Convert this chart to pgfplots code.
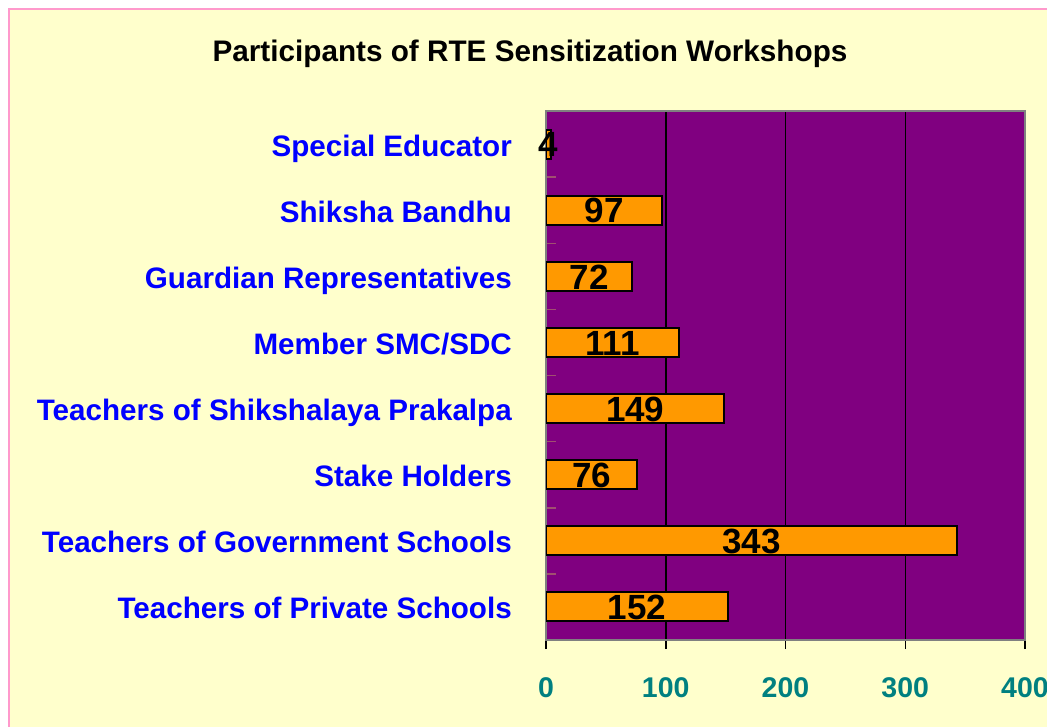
\documentclass[border=0pt]{standalone}
\usepackage{pgfplots}
\pgfplotsset{compat=1.18}
\usepackage{pgfplotstable}
\usepackage{fontspec}
\setmainfont{Liberation Sans}
\definecolor{bgyellow}{HTML}{FFFFCC}
\definecolor{pinkborder}{HTML}{FF99CC}
\definecolor{plotpurple}{HTML}{800080}
\definecolor{barorange}{HTML}{FF9900}
\definecolor{tickteal}{HTML}{008080}
\definecolor{labelblue}{HTML}{0000FF}
\definecolor{framegray}{HTML}{808080}
\definecolor{minortick}{HTML}{A05070}

\pgfplotstableread{
y v
0 152
1 343
2 76
3 149
4 111
5 72
6 97
7 4
}\datatable

\begin{document}
\begin{tikzpicture}
\clip (0,0) rectangle (1047pt,-727pt);
\fill[white] (0,0) rectangle (1047pt,-727pt);
\fill[bgyellow] (8pt,-8pt) rectangle (1060pt,-740pt);
\draw[pinkborder, line width=2.5pt] (9pt,-740pt) -- (9pt,-9pt) -- (1060pt,-9pt);
\node[font=\fontsize{29.7}{34}\selectfont\bfseries, text=black, inner sep=0pt, text height=21.3pt, text depth=0pt] at (530pt,-51pt) {Participants of RTE Sensitization Workshops};
\begin{axis}[
  at={(546pt,-640pt)}, anchor=south west,
  scale only axis, width=479pt, height=529pt,
  xmin=0, xmax=400, ymin=-0.5, ymax=7.5,
  /pgf/number format/assume math mode=true,
  axis background/.style={fill=plotpurple},
  axis line style={draw=framegray, line width=2pt},
  xtick={0,100,200,300,400},
  xtick pos=left,
  xtick align=outside,
  major tick length=9pt,
  every major x tick/.style={draw=black, line width=1.5pt},
  xmajorgrids,
  major x grid style={draw=black, line width=1.5pt},
  xticklabel style={font=\fontsize{28.5}{32}\selectfont\bfseries, text=tickteal, inner sep=0pt, yshift=-28pt},
  ytick={0,...,7},
  yticklabels={Teachers of Private Schools, Teachers of Government Schools, Stake Holders, Teachers of Shikshalaya Prakalpa, Member SMC/SDC, Guardian Representatives, Shiksha Bandhu, Special Educator},
  ytick pos=left,
  ytick align=inside,
  every major y tick/.style={draw=none},
  minor ytick={-0.5,0.5,...,7.5},
  minor tick length=10pt,
  every minor y tick/.style={draw=minortick, line width=1.5pt},
  yticklabel style={font=\fontsize{29.6}{34}\selectfont\bfseries, text=labelblue, inner sep=0pt, text height=24pt, text depth=0pt, xshift=-34pt},
]
\addplot[xbar, bar width=0.44, fill=barorange, draw=black, line width=2pt] table[x=v, y=y] {\datatable};
\addplot[only marks, mark=*, mark size=0pt, mark options={draw=none, fill=none},
  nodes near coords, point meta=explicit, nodes near coords align=center,
  every node near coord/.append style={font=\fontsize{35}{40}\selectfont\bfseries, text=black, anchor=center, inner sep=0pt, text height=25.5pt, text depth=0pt}]
  table[x expr=\thisrow{v}/2, y=y, meta=v] {\datatable};
\end{axis}
\end{tikzpicture}
\end{document}
